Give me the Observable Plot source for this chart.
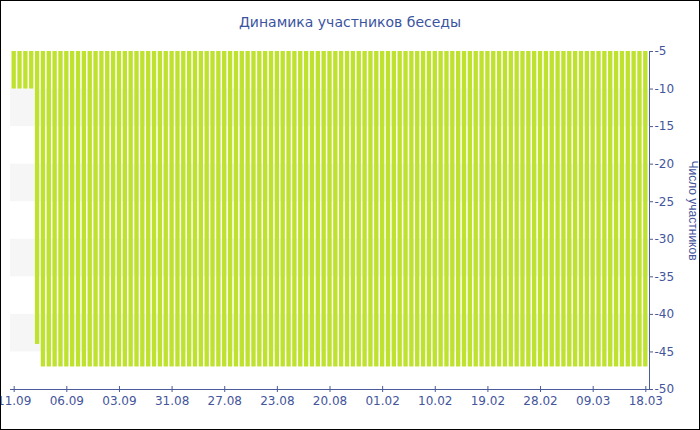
<!DOCTYPE html>
<html>
<head>
<meta charset="utf-8">
<script src="https://cdn.jsdelivr.net/npm/d3@7"></script>
<script src="https://cdn.jsdelivr.net/npm/@observablehq/plot@0.6"></script>
<style>
  body { margin: 0; background: #fff; }
  #wrap { position: relative; width: 700px; height: 430px; overflow: hidden; font-family: "DejaVu Sans", Verdana, sans-serif; }
  #title { position: absolute; top: 14px; left: 0; width: 700px; text-align: center; font-size: 14px; color: #3b54a0; line-height: 17px; }
  #border { position: absolute; left: 0; top: 0; width: 700px; height: 430px; box-sizing: border-box; border: 1px solid #000; pointer-events: none; }
  #wrap svg { position: absolute; left: 0; top: 0; }
</style>
</head>
<body>
<div id="wrap">
  <div id="title">Динамика участников беседы</div>
  <div id="border"></div>
</div>
<script>
// Participant counts per conversation day (shown as negative values as in the original chart)
const participants = [
  -10, -10, -10, -10, -44,
  -47, -47, -47, -47, -47, -47, -47, -47, -47, -47,
  -47, -47, -47, -47, -47, -47, -47, -47, -47, -47,
  -47, -47, -47, -47, -47, -47, -47, -47, -47, -47,
  -47, -47, -47, -47, -47, -47, -47, -47, -47, -47,
  -47, -47, -47, -47, -47, -47, -47, -47, -47, -47,
  -47, -47, -47, -47, -47, -47, -47, -47, -47, -47,
  -47, -47, -47, -47, -47, -47, -47, -47, -47, -47,
  -47, -47, -47, -47, -47, -47, -47, -47, -47, -47,
  -47, -47, -47, -47, -47, -47, -47, -47, -47, -47,
  -47, -47, -47, -47, -47, -47, -47, -47, -47, -47,
  -47, -47, -47, -47
];
const categories = participants.map((_, i) => i);
const tickIndex = [0, 9, 18, 27, 36, 45, 54, 63, 72, 81, 90, 99, 108];
const tickLabels = ["11.09", "06.09", "03.09", "31.08", "27.08", "23.08", "20.08", "01.02", "10.02", "19.02", "28.02", "09.03", "18.03"];
const yTicks = [-5, -10, -15, -20, -25, -30, -35, -40, -45, -50];
const stripeFrom = [-10, -20, -30, -40];
const stripeTo = [-15, -25, -35, -45];
const yTitle = "Число участников";

const axisColor = "#4a5a9a";
const textColor = "#44559a";

const chart = Plot.plot({
  width: 700,
  height: 430,
  marginTop: 51,
  marginBottom: 41,
  marginLeft: 10,
  marginRight: 51,
  style: { fontFamily: "'DejaVu Sans', Verdana, sans-serif", fontSize: "12px", color: textColor, background: "transparent" },
  x: { type: "band", domain: categories, padding: 0.26, axis: null },
  y: { domain: [-50, -5], axis: null },
  marks: [
    Plot.barY(stripeFrom, { y1: d => d, y2: (d, i) => stripeTo[i], fill: "#f6f6f6" }),
    Plot.barY(participants, { x: (d, i) => categories[i], y1: -5, y2: d => d, fill: "#bee22d" }),
    Plot.ruleY([-50], { stroke: axisColor }),
    Plot.frame({ anchor: "right", stroke: axisColor }),
    Plot.axisX({ ticks: tickIndex, tickFormat: i => tickLabels[tickIndex.indexOf(i)], tickSize: 0, tickPadding: 7, fill: textColor, fontSize: 12 }),
    Plot.axisX({ ticks: tickIndex, tickSize: 6, dy: -3, text: null, stroke: axisColor, strokeOpacity: 1 }),
    Plot.axisY({ anchor: "right", ticks: yTicks, tickSize: 3, tickPadding: 2, tickFormat: d => String(d), fill: textColor, stroke: axisColor, strokeOpacity: 1, fontSize: 12, label: null }),
    Plot.text([yTitle], { text: d => d, frameAnchor: "right", textAnchor: "middle", rotate: 90, dx: 43, dy: -10, fontSize: 12, fontFamily: "'Liberation Sans', Arial, sans-serif", fill: textColor })
  ]
});
document.getElementById("wrap").insertBefore(chart, document.getElementById("border"));
</script>
</body>
</html>
